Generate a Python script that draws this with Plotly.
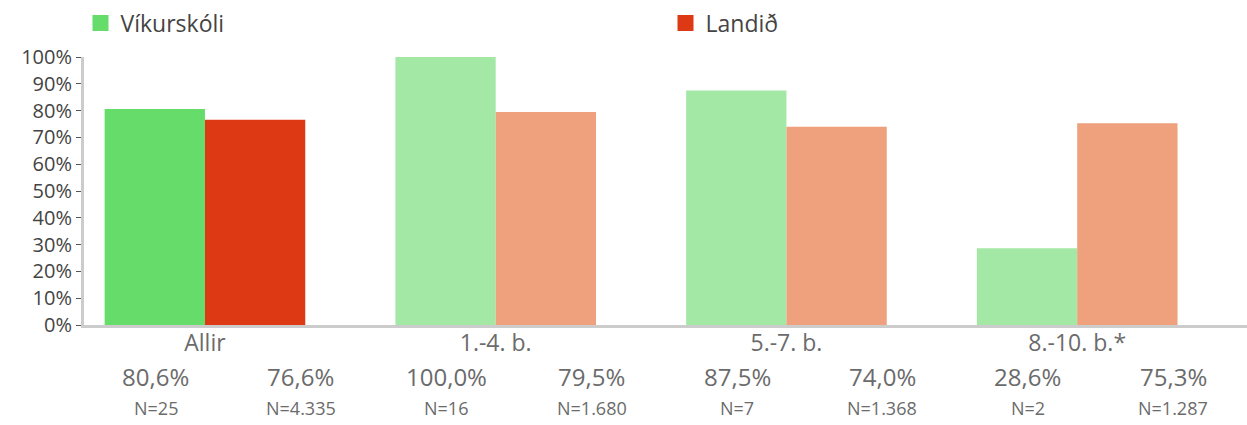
import plotly.graph_objects as go

categories = ["Allir", "1.-4. b.", "5.-7. b.", "8.-10. b.*"]
vikurskoli = [80.6, 100.0, 87.5, 28.6]
landid = [76.6, 79.5, 74.0, 75.3]
vikurskoli_n = ["N=25", "N=16", "N=7", "N=2"]
landid_n = ["N=4.335", "N=1.680", "N=1.368", "N=1.287"]
vikurskoli_labels = ["80,6%", "100,0%", "87,5%", "28,6%"]
landid_labels = ["76,6%", "79,5%", "74,0%", "75,3%"]
y_ticks = [0, 10, 20, 30, 40, 50, 60, 70, 80, 90, 100]

green_colors = ["#66dd6a", "#a4e8a5", "#a4e8a5", "#a4e8a5"]
red_colors = ["#dd3914", "#eea17c", "#eea17c", "#eea17c"]

FONT = "Open Sans"

fig = go.Figure()
fig.add_trace(go.Bar(x=categories, y=vikurskoli, name="Víkurskóli", showlegend=False,
                     legendgroup="v",
                     marker=dict(color=green_colors, line=dict(width=0))))
fig.add_trace(go.Bar(x=categories, y=landid, name="Landið", showlegend=False,
                     legendgroup="l",
                     marker=dict(color=red_colors, line=dict(width=0))))
# legend entries (square swatches)
fig.add_trace(go.Scatter(x=[None], y=[None], mode="markers", name="Víkurskóli",
                         legendgroup="v",
                         marker=dict(symbol="square", size=17, color=green_colors[0])))
fig.add_trace(go.Scatter(x=[None], y=[None], mode="markers", name="Landið",
                         legendgroup="l",
                         marker=dict(symbol="square", size=17, color=red_colors[0])))

annotations = []
for i in range(len(categories)):
    for dx, txt, size, yy in [(-0.17, vikurskoli_labels[i], 24, -0.193),
                              (0.33, landid_labels[i], 24, -0.193),
                              (-0.17, vikurskoli_n[i], 18, -0.31),
                              (0.33, landid_n[i], 18, -0.31)]:
        annotations.append(dict(x=i + dx, y=yy, xref="x", yref="paper",
                                text=txt, showarrow=False,
                                font=dict(size=size, color="#6b6b6b", family=FONT),
                                xanchor="center", yanchor="middle"))

fig.update_layout(
    width=1247, height=425,
    margin=dict(l=84, r=0, t=57, b=100, autoexpand=False),
    paper_bgcolor="white", plot_bgcolor="white",
    barmode="group", bargap=0.31, bargroupgap=0,
    font=dict(family=FONT, color="#444444", size=20),
    showlegend=True,
    legend=dict(orientation="h", x=-0.003, y=1.127, xanchor="left", yanchor="middle",
                font=dict(size=23, color="#444444", family=FONT),
                entrywidth=540, entrywidthmode="pixels",
                bgcolor="rgba(0,0,0,0)"),
    annotations=annotations,
    xaxis=dict(range=[-0.416, 3.584], showgrid=False, zeroline=False,
               showline=True, linecolor="#cccccc", linewidth=3, automargin=False,
               ticks="", ticklabelstandoff=-5,
               tickfont=dict(size=23, color="#6b6b6b", family=FONT)),
    yaxis=dict(range=[0, 100], tickvals=y_ticks,
               ticktext=[f"{v}%" for v in y_ticks],
               showgrid=False, zeroline=False, automargin=False,
               showline=True, linecolor="#cccccc", linewidth=3,
               ticks="outside", ticklen=5, tickcolor="#555555", tickwidth=1,
               tickfont=dict(size=20, color="#444444", family=FONT)),
)

fig.write_html("out.html", config={"displayModeBar": False},
               post_script="document.body.style.margin='0';")
